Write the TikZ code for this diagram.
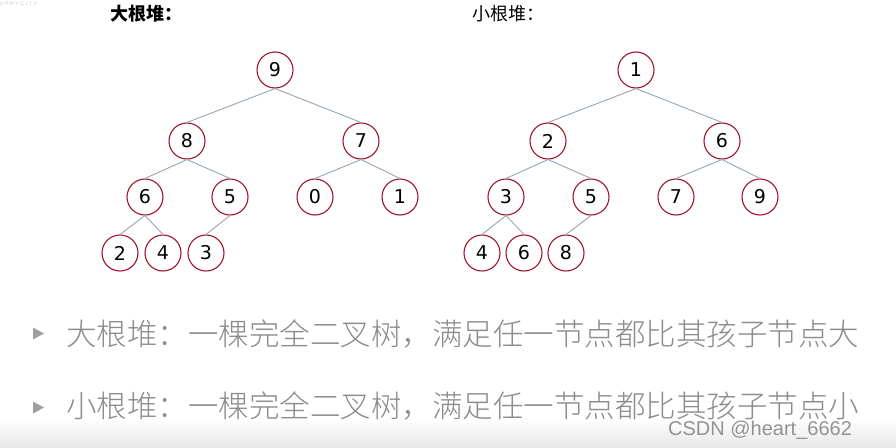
\documentclass[tikz,border=0pt]{standalone}
\usepackage{fontspec}
\setmainfont{DejaVu Sans}
\newfontfamily\cjk{Noto Sans CJK SC}
\IfFontExistsTF{Noto Sans CJK SC Light}{\newfontfamily\cjklight{Noto Sans CJK SC Light}}{\newfontfamily\cjklight{Noto Sans CJK SC}}
\newfontfamily\wm{Liberation Sans}
\definecolor{edgecol}{RGB}{150,165,185}
\definecolor{ringcol}{RGB}{160,20,45}
\begin{document}
\begin{tikzpicture}[x=1pt,y=-1pt,
  hnode/.style={circle,draw=ringcol,line width=1.1pt,minimum size=36pt,inner sep=0pt,font=\fontsize{19}{19}\selectfont,text=black},
  edge/.style={draw=edgecol,line width=0.9pt},
  bullet/.style={fill=gray!75,draw=none},
  desc/.style={anchor=west,text=gray!90,font=\cjklight\fontsize{30.5}{30.5}\selectfont,inner sep=0pt}
]
\fill[white] (0,0) rectangle (896,447);
\shade[top color=white,bottom color=gray!18] (0,418) rectangle (896,447);
\node[anchor=west,text=gray!45,font=\wm\fontsize{5}{5}\selectfont,inner sep=0pt] (wmk) at (0,4) {U\,\,P\,\,P\,\,Y\,\,C\,\,I\,\,T\,\,Y};
% headings
\node[anchor=west,inner sep=0pt,font=\cjk\bfseries\fontsize{18}{18}\selectfont] (h1) at (110,14) {大根堆：};
\node[anchor=west,inner sep=0pt,font=\cjk\fontsize{18}{18}\selectfont] (h2) at (472,14) {小根堆：};
% big heap
\node[hnode] (a9) at (275,70) {9};
\node[hnode] (a8) at (187,141) {8};
\node[hnode] (a7) at (361,141) {7};
\node[hnode] (a6) at (145,197) {6};
\node[hnode] (a5) at (230,197) {5};
\node[hnode] (a0) at (315,197) {0};
\node[hnode] (a1) at (400,197) {1};
\node[hnode] (a2) at (120,253) {2};
\node[hnode] (a4) at (163,253) {4};
\node[hnode] (a3) at (206,253) {3};
\foreach \p/\c in {a9/a8,a9/a7,a8/a6,a8/a5,a7/a0,a7/a1,a6/a2,a6/a4,a5/a3}
  \draw[edge] (\p.south) -- (\c.north);
% small heap
\node[hnode] (b1) at (636,70) {1};
\node[hnode] (b2) at (548,141) {2};
\node[hnode] (b6) at (722,141) {6};
\node[hnode] (b3) at (506,197) {3};
\node[hnode] (b5) at (591,197) {5};
\node[hnode] (b7) at (676,197) {7};
\node[hnode] (b9) at (760,197) {9};
\node[hnode] (b4) at (482,253) {4};
\node[hnode] (b6b) at (524,253) {6};
\node[hnode] (b8) at (566,253) {8};
\foreach \p/\c in {b1/b2,b1/b6,b2/b3,b2/b5,b6/b7,b6/b9,b3/b4,b3/b6b,b5/b8}
  \draw[edge] (\p.south) -- (\c.north);
% bullets
\fill[bullet] (33,327.5) -- (44,333.5) -- (33,339.5) -- cycle;
\fill[bullet] (33,401.5) -- (44,407.5) -- (33,413.5) -- cycle;
\node[desc] (d1) at (66,334) {大根堆：一棵完全二叉树，满足任一节点都比其孩子节点大};
\node[desc] (d2) at (66,406) {小根堆：一棵完全二叉树，满足任一节点都比其孩子节点小};
\node[anchor=west,inner sep=0pt,text=gray!85,font=\wm\fontsize{20}{20}\selectfont] (csdn) at (668,430) {CSDN @heart\_6662};
\end{tikzpicture}
\end{document}
